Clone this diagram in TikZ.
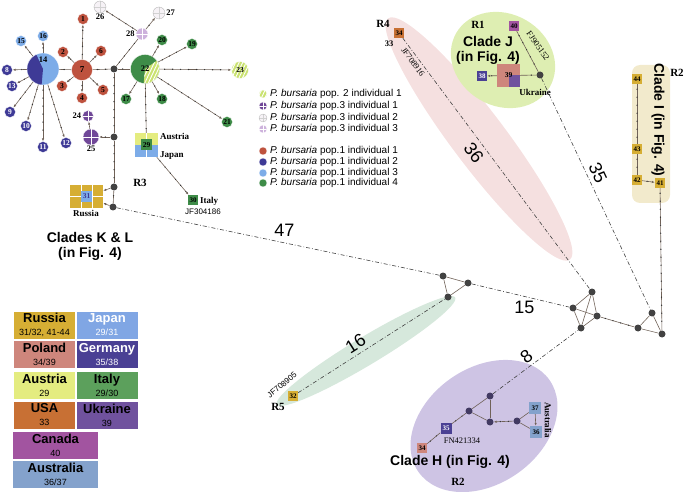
\documentclass[tikz,border=0pt]{standalone}
\usepackage{fontspec}
\setmainfont{Liberation Serif}
\setsansfont{Liberation Sans}
\usetikzlibrary{arrows.meta,decorations.markings,patterns.meta}

\definecolor{popred}{RGB}{190,82,62}
\definecolor{popnavy}{RGB}{62,58,150}
\definecolor{poplight}{RGB}{125,172,232}
\definecolor{popgreen}{RGB}{62,140,72}
\definecolor{popyg}{RGB}{202,226,112}
\definecolor{poppurple}{RGB}{112,72,152}
\definecolor{poplilac}{RGB}{205,178,220}
\definecolor{popwhite}{RGB}{246,242,246}
\definecolor{junc}{RGB}{66,66,66}
\definecolor{junH}{RGB}{66,58,98}
\definecolor{edgec}{RGB}{112,98,88}
\definecolor{russia}{RGB}{214,174,52}
\definecolor{japan}{RGB}{128,166,228}
\definecolor{poland}{RGB}{206,134,124}
\definecolor{germany}{RGB}{74,64,148}
\definecolor{austria}{RGB}{228,236,128}
\definecolor{italy}{RGB}{92,160,92}
\definecolor{usa}{RGB}{200,112,52}
\definecolor{ukraine}{RGB}{112,82,158}
\definecolor{canada}{RGB}{162,84,160}
\definecolor{australia}{RGB}{132,162,204}
\definecolor{regJ}{RGB}{222,238,178}
\definecolor{regI}{RGB}{242,234,204}
\definecolor{regH}{RGB}{206,196,228}
\definecolor{regR4}{RGB}{245,224,224}
\definecolor{regR5}{RGB}{214,232,220}

\newcommand{\ctname}[1]{{\fontsize{13}{13}\selectfont\bfseries #1}}

\tikzset{
  num/.style={font=\bfseries\fontsize{7.5}{7.5}\selectfont},
  side/.style={font=\bfseries\fontsize{8.5}{8.5}\selectfont,inner sep=1pt},
  hap/.style={circle,fill=#1,draw=white,line width=0.3pt,inner sep=0pt,minimum size=11pt,num},
  jn/.style={circle,fill=junc,inner sep=0pt,minimum size=7pt},
  hapbox/.style={fill=#1,inner sep=0pt,minimum size=10pt,font=\bfseries\fontsize{7}{7}\selectfont},
  crossed/.style={path picture={\draw[#1,line width=0.9pt] (path picture bounding box.north) -- (path picture bounding box.south) (path picture bounding box.west) -- (path picture bounding box.east);}},
  crossed/.default=white,
  stripes/.style={pattern={Lines[angle=65,distance=3.2pt,line width=0.9pt]},pattern color=white},
  link/.style={draw=edgec,line width=0.6pt},
  ticked/.style={link,postaction={decorate,decoration={markings,mark=between positions 5pt and -4pt step 8pt with {\fill[black!80] (0,0) circle (0.7pt);}}}},
  arr/.style={-{Latex[length=3pt,width=2.4pt]}},
  far/.style={draw=black!75,line width=0.6pt,dash pattern=on 4pt off 2pt on 0.8pt off 2pt},
  cnt/.style={font=\sffamily\fontsize{18}{18}\selectfont,inner sep=1pt},
  ctry/.style={font=\bfseries\fontsize{9}{9}\selectfont,inner sep=1pt},
  reg/.style={font=\bfseries\fontsize{11}{11}\selectfont,inner sep=0pt},
  clade/.style={font=\sffamily\bfseries\fontsize{14}{15}\selectfont,align=center,inner sep=0pt},
  acc/.style={font=\fontsize{8.5}{8.5}\selectfont,inner sep=0pt},
  keytext/.style={font=\sffamily\fontsize{10}{10}\selectfont,anchor=west,inner sep=0pt},
  cbox/.style={fill=#1,minimum width=61pt,minimum height=27pt,inner sep=0pt,align=center,font=\sffamily\fontsize{9}{10}\selectfont},
}

\begin{document}
\begin{tikzpicture}[x=1pt,y=-1pt]
\useasboundingbox (0,0) rectangle (686,492);

% shaded clades
\fill[regR4,rotate around={-53:(479,139)}] (479,139) ellipse [x radius=151pt,y radius=27pt];
\fill[regR5,rotate around={31:(366,351)}] (366,351) ellipse [x radius=104pt,y radius=14pt];
\fill[regH,rotate around={35:(484,426)}] (484,426) ellipse [x radius=80pt,y radius=58pt];
\fill[regJ,rotate around={-30:(503,60)}] (503,60) ellipse [x radius=54pt,y radius=46pt];
\fill[regI,rounded corners=8pt] (632,65) rectangle (670,203);

% median vectors
\node[jn] (j1) at (114,69) {};
\node[jn] (j2) at (114,137) {};
\node[jn] (j3) at (114,187) {};
\node[jn] (j4) at (113,207) {};
\node[jn] (a1) at (443,276) {};
\node[jn] (a2) at (468,283) {};
\node[jn] (a3) at (448,297) {};
\node[jn] (b1) at (592,292) {};
\node[jn] (b2) at (573,308) {};
\node[jn] (b3) at (597,316) {};
\node[jn] (b4) at (581,328) {};
\node[jn] (c1) at (652,313) {};
\node[jn] (c2) at (638,328) {};
\node[jn] (c3) at (662,334) {};
\node[jn] (cj) at (540,75) {};
\node[jn,fill=junH] (h1) at (490,396) {};
\node[jn,fill=junH] (h2) at (469,411) {};
\node[jn,fill=junH] (h3) at (490,422) {};
\node[jn,fill=junH] (h4) at (517,421) {};

% haplotypes of clades K & L
\node[hap=poplight,minimum size=32pt,label={[num,font=\bfseries\fontsize{8.5}{8.5}\selectfont,yshift=9pt]center:14},
  path picture={\fill[popnavy] (path picture bounding box.center) -- ++(115:20pt) arc[start angle=115,end angle=265,radius=20pt] -- cycle;}] (n14) at (43,69) {};
\node[hap=popred,minimum size=21pt,font=\bfseries\fontsize{9}{9}\selectfont] (n7) at (82,70) {7};
\node[hap=popgreen,minimum size=29pt,font=\bfseries\fontsize{8.5}{8.5}\selectfont,
  path picture={\fill[popyg] (path picture bounding box.center) -- ++(-95:18pt) arc[start angle=-95,end angle=35,radius=18pt] -- cycle;
  \fill[stripes] (path picture bounding box.center) -- ++(-95:18pt) arc[start angle=-95,end angle=35,radius=18pt] -- cycle;}] (n22) at (145,69) {22};
\node[hap=popred] (n1) at (83,19) {1};
\node[hap=popred] (n2) at (63,52) {2};
\node[hap=popred] (n3) at (62,86) {3};
\node[hap=popred] (n4) at (82,98) {4};
\node[hap=popred] (n5) at (103,90) {5};
\node[hap=popred] (n6) at (101,51) {6};
\node[hap=popnavy,text=white] (n8) at (7,70) {8};
\node[hap=popnavy,text=white] (n13) at (12,86) {13};
\node[hap=popnavy,text=white] (n9) at (10,112) {9};
\node[hap=popnavy,text=white] (n10) at (26,126) {10};
\node[hap=popnavy,text=white] (n11) at (43,147) {11};
\node[hap=popnavy,text=white] (n12) at (66,143) {12};
\node[hap=poplight] (n15) at (21,41) {15};
\node[hap=poplight] (n16) at (43,36) {16};
\node[hap=popgreen] (n17) at (126,99) {17};
\node[hap=popgreen] (n18) at (162,99) {18};
\node[hap=popgreen] (n19) at (192,44) {19};
\node[hap=popgreen] (n20) at (162,40) {20};
\node[hap=popgreen] (n21) at (227,122) {21};
\node[hap=popyg,minimum size=17pt,postaction={stripes}] (n23) at (240,70) {23};
\node[hap=poppurple,crossed,label={[side]left:24}] (n24) at (88,116) {};
\node[hap=poppurple,minimum size=16pt,crossed,label={[side]below:25}] (n25) at (91,137) {};
\node[hap=popwhite,draw=gray!60,minimum size=12pt,crossed=gray!35,label={[side]below:26}] (n26) at (100,7) {};
\node[hap=popwhite,draw=gray!60,minimum size=12pt,crossed=gray!35,label={[side]right:27}] (n27) at (159,13) {};
\node[hap=poplilac,minimum size=12pt,crossed,label={[side]left:28}] (n28) at (142,34) {};
\node[fill=austria,minimum width=23pt,minimum height=24pt,inner sep=0pt,font=\bfseries\fontsize{7.5}{7.5}\selectfont,
  path picture={\fill[poplight] (path picture bounding box.west) rectangle (path picture bounding box.south east);
  \draw[white,line width=0.3pt] (path picture bounding box.north) -- (path picture bounding box.south);
  \fill[popgreen] ([shift={(-5.5pt,-5.5pt)}]path picture bounding box.center) rectangle ([shift={(5.5pt,5.5pt)}]path picture bounding box.center);}] (n29) at (146.5,145) {29};
\node[hapbox=popgreen] (n30) at (193,200) {30};
\node[fill=russia,minimum width=33pt,minimum height=23pt,inner sep=0pt,font=\bfseries\fontsize{7.5}{7.5}\selectfont,text=popnavy,
  path picture={\draw[white,line width=0.4pt] ([xshift=-5.5pt]path picture bounding box.north) -- ([xshift=-5.5pt]path picture bounding box.south)
  ([xshift=5.5pt]path picture bounding box.north) -- ([xshift=5.5pt]path picture bounding box.south) (path picture bounding box.west) -- (path picture bounding box.east);
  \fill[poplight] ([shift={(-5.5pt,-5.5pt)}]path picture bounding box.center) rectangle ([shift={(5.5pt,5.5pt)}]path picture bounding box.center);}] (n31) at (86.5,196.5) {31};

% other haplotypes
\node[hapbox=russia] (n32) at (293,396) {32};
\node[hapbox=usa] (n34r) at (399,33) {34};
\node[hapbox=canada] (n40) at (514,26) {40};
\node[hapbox=germany,text=white] (n38) at (482,76) {38};
\node[fill=poland,minimum size=23pt,inner sep=0pt,font=\bfseries\fontsize{7.5}{7.5}\selectfont,
  path picture={\fill[ukraine] (path picture bounding box.center) rectangle (path picture bounding box.south east);}] (n39) at (508.5,75.5) {39};
\node[hapbox=russia] (n44) at (637,79) {44};
\node[hapbox=russia] (n43) at (637,149) {43};
\node[hapbox=russia] (n42) at (637,180) {42};
\node[hapbox=russia] (n41) at (660,183) {41};
\node[hapbox=germany,text=white,minimum size=11pt] (n35) at (446,428) {35};
\node[hapbox=poland] (n34h) at (422,448) {34};
\node[hapbox=australia,minimum size=12pt] (n37) at (535,408) {37};
\node[hapbox=australia,minimum size=12pt] (n36) at (536,432) {36};

% connections
\draw[ticked] (n14) -- (n7);
\draw[ticked] (n7) -- (j1);
\draw[ticked] (j1) -- (n22);
\draw[ticked,arr] (n14) -- (n15);
\draw[ticked,arr] (n14) -- (n16);
\draw[ticked,arr] (n14) -- (n8);
\draw[ticked,arr] (n14) -- (n13);
\draw[ticked,arr] (n14) -- (n9);
\draw[ticked,arr] (n14) -- (n10);
\draw[ticked,arr] (n14) -- (n11);
\draw[ticked,arr] (n14) -- (n12);
\draw[ticked,arr] (n7) -- (n1);
\draw[ticked,arr] (n7) -- (n2);
\draw[ticked,arr] (n7) -- (n3);
\draw[ticked,arr] (n7) -- (n4);
\draw[ticked,arr] (n7) -- (n5);
\draw[ticked,arr] (n7) -- (n6);
\draw[ticked] (j1) -- (n28);
\draw[ticked,arr] (n28) -- (n26);
\draw[ticked,arr] (n28) -- (n27);
\draw[ticked] (j1) -- (j2);
\draw[ticked,arr] (j2) -- (n25);
\draw[ticked,arr] (n25) -- (n24);
\draw[ticked] (j2) -- (j3);
\draw[ticked,arr] (j3) -- (n31);
\draw[ticked] (j3) -- (j4);
\draw[ticked,arr] (j4) -- (n31);
\draw[ticked,arr] (n22) -- (n20);
\draw[ticked,arr] (n22) -- (n19);
\draw[ticked,arr] (n22) -- (n17);
\draw[ticked,arr] (n22) -- (n18);
\draw[ticked,arr] (n22) -- (n21);
\draw[ticked,arr] (n22) -- (n23);
\draw[ticked] (n22) -- (n29);
\draw[ticked,arr] (n29) -- (n30);
\draw[ticked,arr] (n39) -- (n38);
\draw[ticked] (cj) -- (n39);
\draw[ticked] (n40) -- (cj);
\draw[ticked] (n44) -- (n43);
\draw[ticked] (n43) -- (n42);
\draw[ticked,arr] (n42) -- (n41);
\draw[ticked] (n41) -- (c3);
\draw[link] (c1) -- (c2);
\draw[link] (c1) -- (c3);
\draw[link] (c2) -- (c3);
\draw[ticked] (b3) -- (c2);
\draw[link] (b1) -- (b2);
\draw[link] (b1) -- (b3);
\draw[link] (b1) -- (b4);
\draw[link] (b2) -- (b3);
\draw[link] (b2) -- (b4);
\draw[link] (b4) -- (b3);
\draw[link] (a1) -- (a2);
\draw[link] (a1) -- (a3);
\draw[link] (a3) -- (a2);
\draw[link] (h1) -- (h2);
\draw[link] (h1) -- (h3);
\draw[link] (h2) -- (h3);
\draw[ticked,arr] (h4) -- (h3);
\draw[link] (h4) -- (n37);
\draw[link] (h4) -- (n36);
\draw[link,arr] (n37) -- (n36);
\draw[ticked] (h2) -- (n35);
\draw[ticked] (n35) -- (n34h);

% long branches
\draw[far] (j4) -- node[cnt,pos=0.52,above=5pt] (d47) {47} (a1);
\draw[far] (a2) -- node[cnt,pos=0.54,below=3pt] (d15) {15} (b2);
\draw[far] (n34r) -- node[cnt,sloped,pos=0.43,below=4pt] (d36) {36} (b1);
\draw[far] (cj) -- node[cnt,sloped,pos=0.43,above=3pt] (d35) {35} (c1);
\draw[far] (n32) -- node[cnt,sloped,pos=0.43,above=3pt] (d16) {16} (a3);
\draw[far] (h1) -- node[cnt,sloped,pos=0.46,above=2pt] (d8) {8} (b4);

% clade and region labels
\node[clade] (cladeKL) at (90,246) {Clades K \& L\\(in Fig. 4)};
\node[clade] (cladeJ) at (488,50) {Clade J\\(in Fig. 4)};
\node[clade,rotate=-90] (cladeI) at (658,120) {Clade I (in Fig. 4)};
\node[clade] (cladeH) at (450,462) {Clade H (in Fig. 4)};
\node[reg] (r1) at (478,25) {R1};
\node[reg] (r2a) at (677,73) {R2};
\node[reg] (r2b) at (458,482) {R2};
\node[reg] (r3) at (140,183) {R3};
\node[reg] (r4) at (383,24) {R4};
\node[reg] (r5) at (278,407) {R5};

% countries and accessions
\node[ctry,anchor=west] (tAustria) at (159,136) {Austria};
\node[ctry,anchor=west] (tJapan) at (159,156) {Japan};
\node[ctry,anchor=west] (tItaly) at (199,201) {Italy};
\node[font=\sffamily\fontsize{8}{8}\selectfont,inner sep=0pt] (tJF304186) at (203,212) {JF304186};
\node[ctry] (tRussia) at (86,213) {Russia};
\node[ctry] (tUkraine) at (535,92) {Ukraine};
\node[ctry,rotate=-90] (tAustralia) at (548,420) {Australia};
\node[acc] (tFN421334) at (462,441) {FN421334};
\node[acc,rotate=-54] (tJF708916) at (413,62) {JF708916};
\node[acc,rotate=-55] (tFJ905152) at (538,46) {FJ905152};
\node[font=\sffamily\fontsize{8}{8}\selectfont,rotate=40,inner sep=0pt] (tJF708905) at (282,385) {JF708905};
\node[side] (t33) at (389,44) {33};

% key to individuals
\node[hap=popyg,minimum size=8pt,postaction={stripes}] (k1) at (263,94) {};
\node[keytext] (k1t) at (270,94) {\textit{P. bursaria} pop. 2 individual 1};
\node[hap=poppurple,minimum size=8pt,crossed] (k2) at (263,106) {};
\node[keytext] (k2t) at (270,106) {\textit{P. bursaria} pop.3 individual 1};
\node[hap=popwhite,draw=gray!60,minimum size=8pt,crossed=gray!35] (k3) at (263,118) {};
\node[keytext] (k3t) at (270,118) {\textit{P. bursaria} pop.3 individual 2};
\node[hap=poplilac,minimum size=8pt,crossed] (k4) at (263,129) {};
\node[keytext] (k4t) at (270,129) {\textit{P. bursaria} pop.3 individual 3};
\node[hap=popred,minimum size=8pt] (k5) at (263,151) {};
\node[keytext] (k5t) at (270,151) {\textit{P. bursaria} pop.1 individual 1};
\node[hap=popnavy,minimum size=8pt] (k6) at (263,162) {};
\node[keytext] (k6t) at (270,162) {\textit{P. bursaria} pop.1 individual 2};
\node[hap=poplight,minimum size=8pt] (k7) at (263,173) {};
\node[keytext] (k7t) at (270,173) {\textit{P. bursaria} pop.1 individual 3};
\node[hap=popgreen,minimum size=8pt] (k8) at (263,183) {};
\node[keytext] (k8t) at (270,183) {\textit{P. bursaria} pop.1 individual 4};

% key to countries
\node[cbox=russia] (lgRussia) at (44.5,325) {\ctname{Russia}\\[3pt]31/32, 41-44};
\node[cbox=japan,text=white] (lgJapan) at (107,325) {\ctname{Japan}\\[3pt]29/31};
\node[cbox=poland] (lgPoland) at (44.5,354.5) {\ctname{Poland}\\[3pt]34/39};
\node[cbox=germany,text=white] (lgGermany) at (107,354.5) {\ctname{Germany}\\[3pt]35/38};
\node[cbox=austria] (lgAustria) at (44.5,385.5) {\ctname{Austria}\\[3pt]29};
\node[cbox=italy] (lgItaly) at (107,385.5) {\ctname{Italy}\\[3pt]29/30};
\node[cbox=usa] (lgUSA) at (44.5,415) {\ctname{USA}\\[3pt]33};
\node[cbox=ukraine] (lgUkraine) at (107,415) {\ctname{Ukraine}\\[3pt]39};
\node[cbox=canada,minimum width=85pt] (lgCanada) at (55.5,445) {\ctname{Canada}\\[3pt]40};
\node[cbox=australia,minimum width=85pt] (lgAustralia) at (55.5,474) {\ctname{Australia}\\[3pt]36/37};
\end{tikzpicture}
\end{document}
